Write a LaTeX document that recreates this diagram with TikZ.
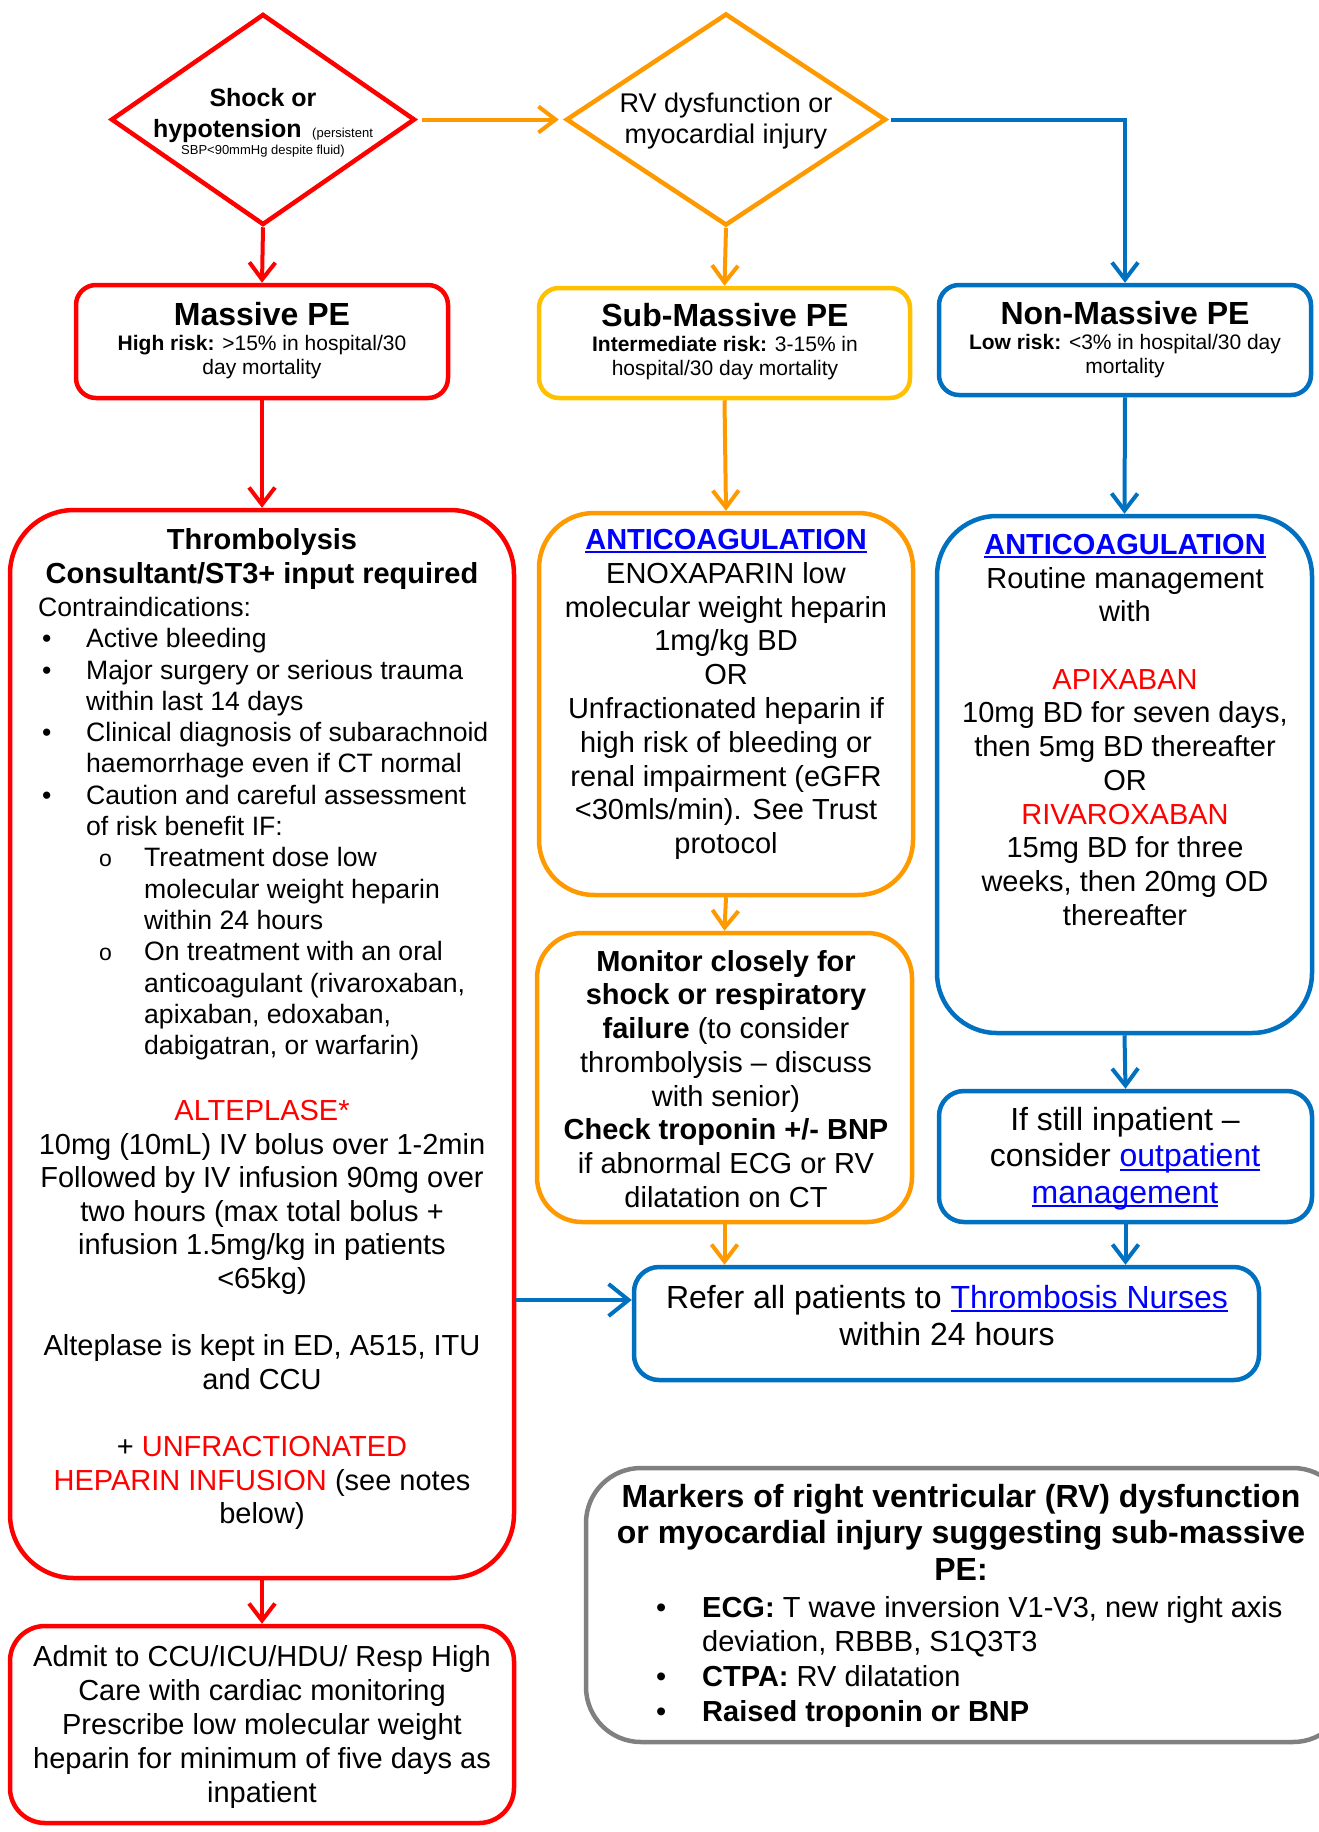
\documentclass[tikz,border=0pt]{standalone}
\usepackage{fontspec}
\setmainfont{Liberation Sans}
\usetikzlibrary{arrows.meta,shapes.geometric}
\definecolor{cred}{HTML}{FF0000}
\definecolor{corange}{HTML}{FF9900}
\definecolor{cyellow}{HTML}{FFC000}
\definecolor{cblue}{HTML}{0070C0}
\definecolor{clink}{HTML}{0000FF}
\definecolor{cgray}{HTML}{808080}
\newcommand\lnk[1]{\textcolor{clink}{\setbox0\hbox{#1}\rlap{\raisebox{-4pt}{\rule{\wd0}{2pt}}}\box0}}
\newcommand\fsz[2]{\fontsize{#1}{#2}\selectfont}
\newcommand\bul{\makebox[48pt][l]{\hspace*{4pt}•}}
\newcommand\mbul{\makebox[50pt][l]{\hspace*{4pt}•}}
\newcommand\sbul{\hspace*{61pt}\makebox[45pt][l]{\fsz{23}{23}o}}
\begin{document}
\begin{tikzpicture}[x=1pt,y=-1pt,
  box/.style={draw=#1, line width=4.5pt, inner sep=0pt, fill=white},
  txt/.style={inner sep=0pt, align=center, anchor=north},
  conn/.style={draw=#1, line width=4pt, -{Straight Barb[length=17pt,width=26pt]}},
]
\useasboundingbox (0,0) rectangle (1319,1832);
\clip (0,0) rectangle (1319,1832);

% diamonds
\node[diamond, draw=cred, line width=4.5pt, minimum width=304pt, minimum height=211pt, inner sep=0pt] (d1) at (263,119.5) {};
\node[diamond, draw=corange, line width=4.5pt, minimum width=320pt, minimum height=212pt, inner sep=0pt] (d2) at (726,119.5) {};
\node[txt, font=\bfseries\fsz{25}{31}] (d1t) at (263,88) {Shock or\\hypotension {\mdseries\fsz{13}{15} (persistent}\\[-14pt]{\mdseries\fsz{13}{15}SBP<90mmHg despite fluid)}};
\node[txt, font=\fsz{27}{31}] (d2t) at (726,93) {RV dysfunction or\\myocardial injury};

% header boxes
\node[box=cred, rounded corners=20pt, minimum width=372pt, minimum height=113pt] (massive) at (262,341.5) {};
\node[box=cyellow, rounded corners=20pt, minimum width=371pt, minimum height=110pt] (sub) at (724.5,343) {};
\node[box=cblue, rounded corners=20pt, minimum width=372pt, minimum height=110pt] (non) at (1125,340) {};
\node[inner sep=0pt, anchor=base, font=\bfseries\fsz{32}{36}] (masst) at (262,325) {Massive PE};
\node[txt, font=\fsz{21}{24.5}] (massd) at (262,335) {\textbf{High risk:} >15\% in hospital/30\\day mortality};
\node[inner sep=0pt, anchor=base, font=\bfseries\fsz{32}{36}] (subt) at (725,326) {Sub-Massive PE};
\node[txt, font=\fsz{21}{24.5}] (subd) at (725,336) {\textbf{Intermediate risk:} 3-15\% in\\hospital/30 day mortality};
\node[inner sep=0pt, anchor=base, font=\bfseries\fsz{32}{36}] (nont) at (1125,324) {Non-Massive PE};
\node[txt, font=\fsz{21}{24.5}] (nond) at (1125,334) {\textbf{Low risk:} <3\% in hospital/30 day\\mortality};

% big boxes
\node[box=cred, rounded corners=64pt, minimum width=504pt, minimum height=1068pt] (thromb) at (262,1044) {};
\node[box=corange, rounded corners=55pt, minimum width=374pt, minimum height=382pt] (subanti) at (726,704) {};
\node[box=cblue, rounded corners=60pt, minimum width=375pt, minimum height=517pt] (nonanti) at (1124.5,774.5) {};
\node[box=corange, rounded corners=45pt, minimum width=375pt, minimum height=289pt] (monitor) at (724.5,1077.5) {};
\node[box=cblue, rounded corners=25pt, minimum width=373pt, minimum height=131pt] (ifstill) at (1125.5,1156.5) {};
\node[box=cblue, rounded corners=25pt, minimum width=625pt, minimum height=113pt] (refer) at (946.5,1323.5) {};
\node[box=cgray, rounded corners=55pt, minimum width=762pt, minimum height=274pt] (markers) at (967,1605) {};
\node[box=cred, rounded corners=35pt, minimum width=504pt, minimum height=197pt] (admit) at (262,1724.5) {};

% thrombolysis text
\node[txt, font=\bfseries\fsz{29}{34}] (tht) at (262,528) {Thrombolysis\\Consultant/ST3+ input required};
\node[inner sep=0pt, align=left, anchor=north west, font=\fsz{26.6}{31.3}] (thl) at (38,597) {Contraindications:\\
\bul Active bleeding\\
\bul Major surgery or serious trauma\\
\hspace*{48pt}within last 14 days\\
\bul Clinical diagnosis of subarachnoid\\
\hspace*{48pt}haemorrhage even if CT normal\\
\bul Caution and careful assessment\\
\hspace*{48pt}of risk benefit IF:\\
\sbul Treatment dose low\\
\hspace*{106pt}molecular weight heparin\\
\hspace*{106pt}within 24 hours\\
\sbul On treatment with an oral\\
\hspace*{106pt}anticoagulant (rivaroxaban,\\
\hspace*{106pt}apixaban, edoxaban,\\
\hspace*{106pt}dabigatran, or warfarin)};
\node[txt, font=\fsz{29}{33.6}] (alt) at (262,1100) {\textcolor{cred}{ALTEPLASE*}\\
10mg (10mL) IV bolus over 1-2min\\
Followed by IV infusion 90mg over\\
two hours (max total bolus +\\
infusion 1.5mg/kg in patients\\
<65kg)\\ \mbox{}\\
Alteplase is kept in ED, A515, ITU\\
and CCU\\ \mbox{}\\
+ \textcolor{cred}{UNFRACTIONATED}\\
\textcolor{cred}{HEPARIN INFUSION} (see notes\\
below)};

\node[txt, font=\fsz{29}{34}] (admt) at (262,1645) {Admit to CCU/ICU/HDU/ Resp High\\Care with cardiac monitoring\\Prescribe low molecular weight\\heparin for minimum of five days as\\inpatient};

% middle column
\node[txt, font=\fsz{29}{33.8}] (subat) at (726,529) {\lnk{\textbf{ANTICOAGULATION}}\\ENOXAPARIN low\\molecular weight heparin\\1mg/kg BD\\OR\\Unfractionated heparin if\\high risk of bleeding or\\renal impairment (eGFR\\<30mls/min). See Trust\\protocol};
\node[txt, font=\fsz{29}{33.7}] (mont) at (726,950) {\textbf{Monitor closely for}\\\textbf{shock or respiratory}\\\textbf{failure} (to consider\\thrombolysis – discuss\\with senior)\\\textbf{Check troponin +/- BNP}\\if abnormal ECG or RV\\dilatation on CT};

% right column
\node[txt, font=\fsz{29}{33.7}] (nonat) at (1125,534) {\lnk{\textbf{ANTICOAGULATION}}\\Routine management\\with\\ \mbox{}\\\textcolor{cred}{APIXABAN}\\10mg BD for seven days,\\then 5mg BD thereafter\\OR\\\textcolor{cred}{RIVAROXABAN}\\15mg BD for three\\weeks, then 20mg OD\\thereafter};
\node[txt, font=\fsz{32}{36.5}] (ift) at (1125,1107) {If still inpatient –\\consider \lnk{outpatient}\\\lnk{management}};
\node[txt, font=\fsz{32}{37}] (reft) at (947,1285) {Refer all patients to \lnk{Thrombosis Nurses}\\within 24 hours};

% markers
\node[txt, font=\bfseries\fsz{32}{36.5}] (mkt) at (961,1484) {Markers of right ventricular (RV) dysfunction\\or myocardial injury suggesting sub-massive\\PE:};
\node[inner sep=0pt, align=left, anchor=north west, font=\fsz{29}{34.7}] (mkl) at (652,1596) {\mbul\textbf{ECG:} T wave inversion V1-V3, new right axis\\
\hspace*{50pt}deviation, RBBB, S1Q3T3\\
\mbul\textbf{CTPA:} RV dilatation\\
\mbul\textbf{Raised troponin or BNP}};

% connectors
\draw[conn=corange, shorten <=5pt, shorten >=5pt] (d1.east) -- (d2.west);
\draw[conn=cblue, shorten <=3pt] (d2.east) -| (non.north);
\draw[conn=cred] (d1.south) -- (massive.north);
\draw[conn=corange] (d2.south) -- (sub.north);
\draw[conn=cred] (massive.south) -- (thromb.north);
\draw[conn=corange] (sub.south) -- (subanti.north);
\draw[conn=cblue] (non.south) -- (nonanti.north);
\draw[conn=corange] (subanti.south) -- (monitor.north);
\draw[conn=cblue] (nonanti.south) -- (ifstill.north);
\draw[conn=corange] (monitor.south) -- (monitor.south |- refer.north);
\draw[conn=cblue] (ifstill.south) -- (ifstill.south |- refer.north);
\coordinate (rin) at ([yshift=23.5pt]refer.west);
\draw[conn=cblue, -{Straight Barb[length=20pt,width=32pt]}] (thromb.east |- rin) -- (rin);
\draw[conn=cred] (thromb.south) -- (admit.north);
\end{tikzpicture}
\end{document}
